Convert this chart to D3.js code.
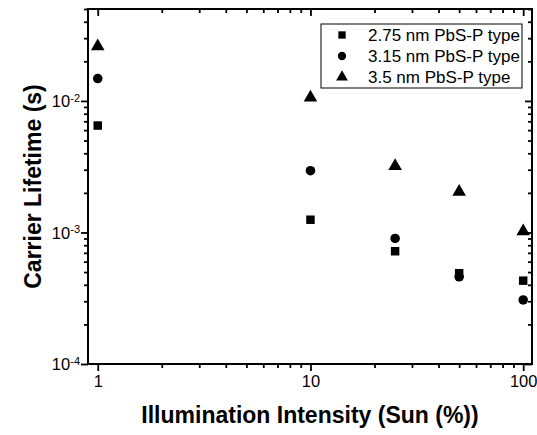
<!DOCTYPE html>
<html>
<head>
<meta charset="utf-8">
<script src="https://cdn.jsdelivr.net/npm/d3@7"></script>
<style>
  body { margin: 0; background: #fff; }
  text { font-family: "Liberation Sans", Arial, sans-serif; }
</style>
</head>
<body>
<div id="chart"></div>
<script>
// illumination (% sun) and carrier lifetime (s)
var intensity = [1, 10, 25, 50, 100];
var life275 = [6.5e-3, 1.25e-3, 7.2e-4, 4.9e-4, 4.3e-4];
var life315 = [1.48e-2, 2.95e-3, 9.0e-4, 4.6e-4, 3.07e-4];
var life35 = [2.6e-2, 1.06e-2, 3.2e-3, 2.04e-3, 1.02e-3];
var seriesNames = ["2.75 nm PbS-P type", "3.15 nm PbS-P type", "3.5 nm PbS-P type"];
var xTickValues = [1, 10, 100];
var yTickExps = [-4, -3, -2];

var attrs = {
    svgWidth: 537,
    svgHeight: 435,
    marginTop: 9,
    marginLeft: 88,
    marginRight: 5,
    marginBottom: 71
};

var calc = {};
calc.chartWidth = attrs.svgWidth - attrs.marginLeft - attrs.marginRight;
calc.chartHeight = attrs.svgHeight - attrs.marginTop - attrs.marginBottom;

var svg = d3.select('#chart')
    .append('svg')
    .attr('width', attrs.svgWidth)
    .attr('height', attrs.svgHeight);

var chart = svg.append('g')
    .attr('transform', 'translate(' + attrs.marginLeft + ',' + attrs.marginTop + ')');

var xScale = d3.scaleLog().domain([0.9, 110]).range([0, calc.chartWidth]);
var yScale = d3.scaleLog().domain([1e-4, 5e-2]).range([calc.chartHeight, 0]);

// minor tick values 2..9 per decade
var xMinor = [];
[1, 10].forEach(function (d) { for (var k = 2; k <= 9; k++) xMinor.push(d * k); });
var yMinor = [];
[1e-4, 1e-3, 1e-2].forEach(function (d) {
    for (var k = 2; k <= 9; k++) if (d * k <= 5e-2) yMinor.push(d * k);
});
var yMajor = yTickExps.map(function (e) { return Math.pow(10, e); });

var majorLen = 7, minorLen = 4;

function styleAxis(g) {
    g.selectAll('.domain').remove();
    g.selectAll('.tick line').attr('stroke', '#000').attr('stroke-width', 1.8);
}

// bottom axis (outward ticks)
chart.append('g')
    .attr('transform', 'translate(0,' + calc.chartHeight + ')')
    .call(d3.axisBottom(xScale).tickValues(xTickValues).tickSize(majorLen).tickPadding(4).tickFormat(d3.format('d')))
    .call(styleAxis)
    .call(function (g) {
        g.attr('font-size', null).attr('font-family', null);
        g.selectAll('text').attr('fill', '#000').style('font-size', '16.5px');
    });
chart.append('g')
    .attr('transform', 'translate(0,' + calc.chartHeight + ')')
    .call(d3.axisBottom(xScale).tickValues(xMinor).tickSize(minorLen).tickFormat(''))
    .call(styleAxis);

// top axis (inward ticks)
chart.append('g')
    .call(d3.axisBottom(xScale).tickValues(xTickValues).tickSize(majorLen).tickFormat(''))
    .call(styleAxis);
chart.append('g')
    .call(d3.axisBottom(xScale).tickValues(xMinor).tickSize(minorLen).tickFormat(''))
    .call(styleAxis);

// left axis (outward ticks)
var yAxisG = chart.append('g')
    .call(d3.axisLeft(yScale).tickValues(yMajor).tickSize(majorLen).tickFormat(''))
    .call(styleAxis);
yAxisG.attr('font-size', null).attr('font-family', null);
chart.append('g')
    .call(d3.axisLeft(yScale).tickValues(yMinor).tickSize(minorLen).tickFormat(''))
    .call(styleAxis);

yAxisG.selectAll('.tick text').remove();
yAxisG.selectAll('.tick')
    .append('text')
    .attr('x', -8)
    .attr('dy', '0.35em')
    .attr('text-anchor', 'end')
    .attr('fill', '#000')
    .style('font-size', '16.5px')
    .each(function (d) {
        var t = d3.select(this);
        t.append('tspan').text('10');
        t.append('tspan').attr('dy', '-0.5em').style('font-size', '11px')
            .text(String(Math.round(Math.log10(d))));
    });

// right axis (inward ticks)
chart.append('g')
    .attr('transform', 'translate(' + calc.chartWidth + ',0)')
    .call(d3.axisLeft(yScale).tickValues(yMajor).tickSize(majorLen).tickFormat(''))
    .call(styleAxis);
chart.append('g')
    .attr('transform', 'translate(' + calc.chartWidth + ',0)')
    .call(d3.axisLeft(yScale).tickValues(yMinor).tickSize(minorLen).tickFormat(''))
    .call(styleAxis);

// frame
chart.append('rect')
    .attr('width', calc.chartWidth)
    .attr('height', calc.chartHeight)
    .attr('fill', 'none')
    .attr('stroke', '#000')
    .attr('stroke-width', 2);

// data
var symbols = [d3.symbolSquare, d3.symbolCircle, d3.symbolTriangle];
var symSizes = [72, 72, 80];
var series = [life275, life315, life35].map(function (vals, i) {
    return {
        name: seriesNames[i],
        data: intensity.map(function (x, j) { return { x: x, y: vals[j] }; })
    };
});

series.forEach(function (s, i) {
    chart.selectAll('.pt' + i)
        .data(s.data)
        .enter()
        .append('path')
        .attr('class', 'pt' + i)
        .attr('d', d3.symbol().type(symbols[i]).size(symSizes[i]))
        .attr('transform', function (d) {
            return 'translate(' + xScale(d.x) + ',' + yScale(d.y) + ')';
        })
        .attr('fill', '#000');
});

// legend
var legend = chart.append('g')
    .attr('transform', 'translate(' + (321 - attrs.marginLeft) + ',' + (24 - attrs.marginTop) + ')');
legend.append('rect')
    .attr('width', 201)
    .attr('height', 64)
    .attr('fill', '#fff')
    .attr('stroke', '#000')
    .attr('stroke-width', 1);
series.forEach(function (s, i) {
    var row = legend.append('g').attr('transform', 'translate(0,' + (11 + i * 21) + ')');
    row.append('path')
        .attr('d', d3.symbol().type(symbols[i]).size(symSizes[i] * 0.75))
        .attr('transform', 'translate(21,0)')
        .attr('fill', '#000');
    row.append('text')
        .attr('x', 47)
        .attr('dy', '0.35em')
        .style('font-size', '17px')
        .attr('fill', '#000')
        .text(s.name);
});

// axis titles
svg.append('text')
    .attr('x', attrs.marginLeft + calc.chartWidth / 2)
    .attr('y', 423)
    .attr('text-anchor', 'middle')
    .style('font-size', '23px')
    .style('font-weight', 'bold')
    .text('Illumination Intensity (Sun (%))');

svg.append('text')
    .attr('transform', 'translate(41,' + (attrs.marginTop + calc.chartHeight / 2) + ') rotate(-90)')
    .attr('text-anchor', 'middle')
    .style('font-size', '23px')
    .style('font-weight', 'bold')
    .text('Carrier Lifetime (s)');
</script>
</body>
</html>
